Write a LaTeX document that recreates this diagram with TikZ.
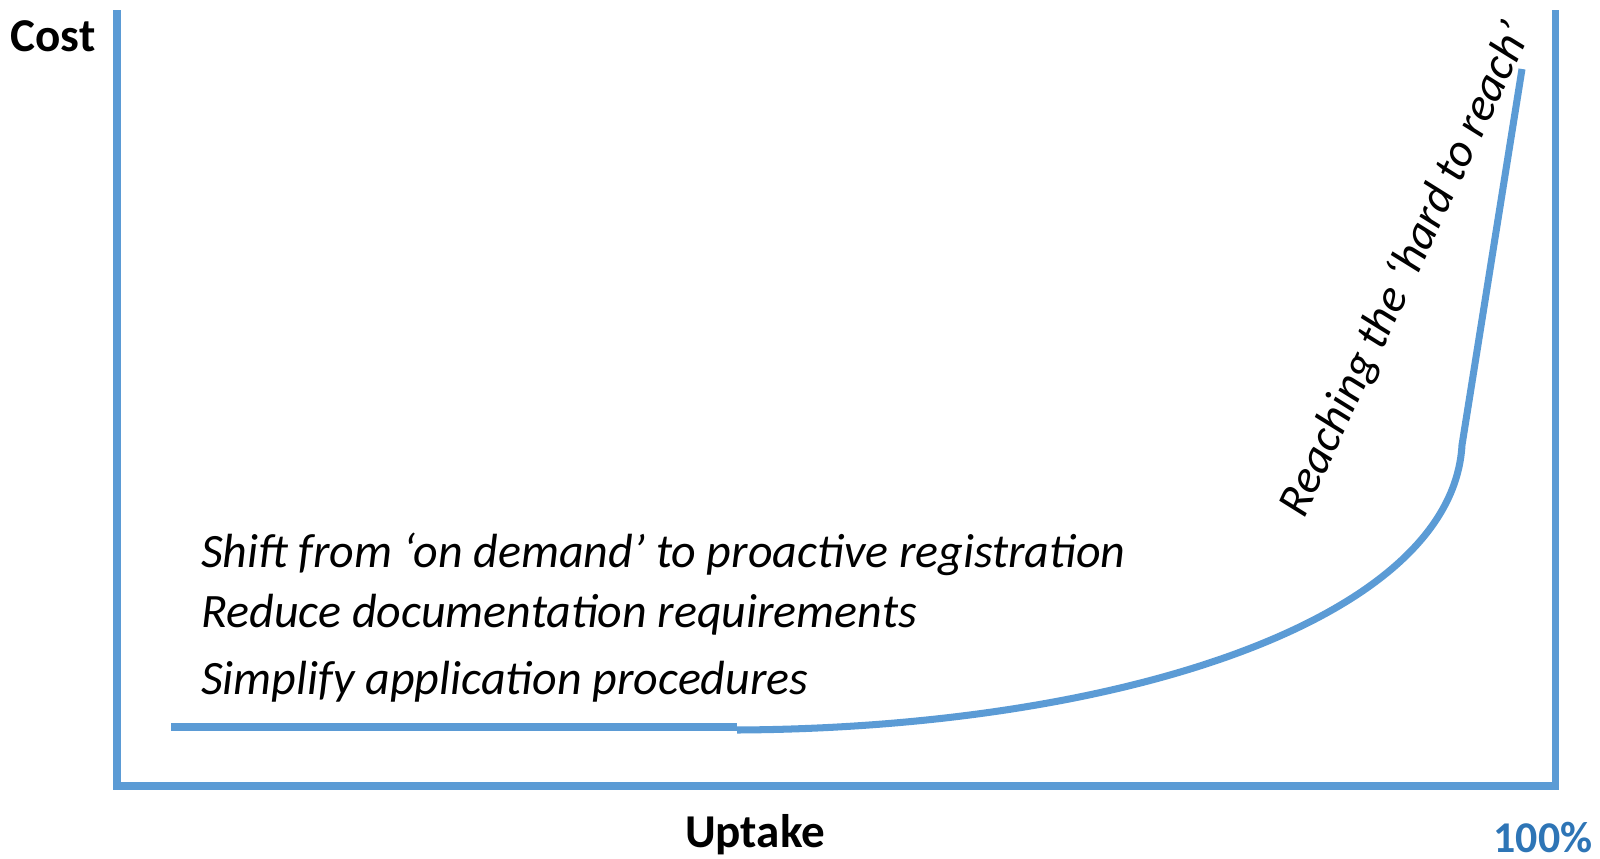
\documentclass[tikz,border=0pt]{standalone}
\usepackage{fontspec}
\setmainfont{Carlito}
\definecolor{lineblue}{HTML}{5B9BD5}
\definecolor{darkblue}{HTML}{2E75B6}
\begin{document}
\begin{tikzpicture}[x=0.02cm,y=-0.02cm,
  blueline/.style={draw=lineblue,line width=4pt},
  axislabel/.style={font=\fontsize{26.8}{30}\selectfont\bfseries},
  itemfont/.style={font=\fontsize{27.3}{32}\selectfont\itshape},
  itemtext/.style={itemfont,anchor=west}]
\useasboundingbox (0,0) rectangle (1600,859);
% axes
\coordinate (ytop) at (117,10);
\coordinate (origin) at (117,786);
\coordinate (xend) at (1555,786);
\coordinate (rtop) at (1555,10);
\draw[blueline] (ytop) -- (origin) -- (xend) -- (rtop);
% cost curve
\coordinate (c0) at (171,727);
\coordinate (c1) at (737,727);
\coordinate (c2) at (737,730);
\coordinate (c3) at (1462,445);
\coordinate (c4) at (1522,69);
\draw[blueline] (c0) -- (c1);
\draw[blueline] (c2) .. controls (1120,728) and (1452,620) .. (c3) -- (c4);
% labels
\node[axislabel] (cost) at (53,36) {Cost};
\node[axislabel] (uptake) at (755,835) {Uptake};
\node[font=\fontsize{25}{30}\selectfont\bfseries,text=darkblue,inner sep=1pt] (pct) at (1543,838) {100\%};
\node[itemtext] (t1) at (195,554) {Shift from ‘on demand’ to proactive registration};
\node[itemtext] (t2) at (195,615) {Reduce documentation requirements};
\node[itemtext] (t3) at (195,682) {Simplify application procedures};
\node[font=\fontsize{26.8}{32}\selectfont\itshape,rotate=65] (hard) at (1406,270) {Reaching the ‘hard to reach’};
\end{tikzpicture}
\end{document}
